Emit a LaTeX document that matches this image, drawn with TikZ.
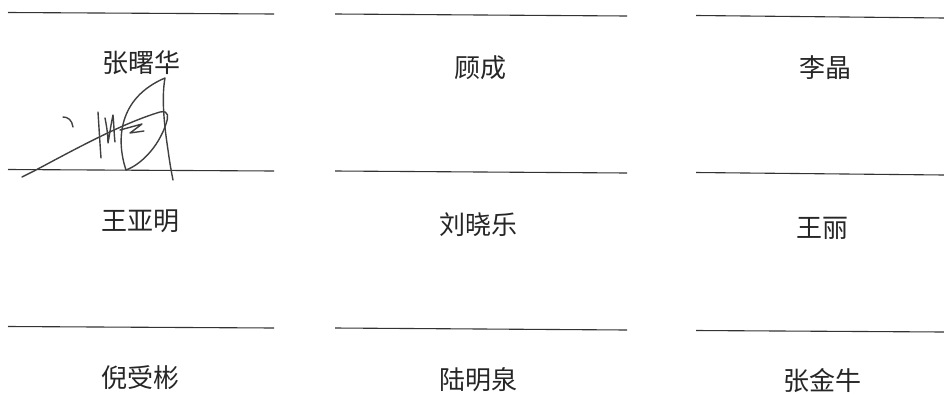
\documentclass[tikz,border=0pt]{standalone}
\usepackage{fontspec}
\newfontfamily\cjk{Noto Sans CJK SC}
\usepackage{tikz}

\begin{document}
\begin{tikzpicture}[x=1pt,y=-1pt]
    \tikzstyle{every node}+=[inner sep=0pt]
    \tikzstyle{signline}=[draw=black!80, line width=1.1pt]
    \tikzstyle{nametag}=[text=black!85, font=\cjk\fontsize{26}{26}\selectfont]
    \tikzstyle{penstroke}=[draw=black!75, line width=1.4pt, line cap=round, line join=round]
    \useasboundingbox (0,0) rectangle (944,394);
    % signature lines
    \draw [signline] (8,12.5) -- (274,14);
    \draw [signline] (335,14) -- (627,16);
    \draw [signline] (696,15.5) -- (944,18);
    \draw [signline] (8,169.5) -- (274,171);
    \draw [signline] (335,171) -- (627,173);
    \draw [signline] (696,172.5) -- (944,175);
    \draw [signline] (8,326.5) -- (274,328);
    \draw [signline] (335,328) -- (627,330);
    \draw [signline] (696,330.5) -- (944,332);
    % names
    \node [nametag] (zsh) at (141,63) {张曙华};
    \node [nametag] (gc) at (480,68) {顾成};
    \node [nametag] (lj) at (825,68) {李晶};
    \node [nametag] (wym) at (140,221) {王亚明};
    \node [nametag] (lxl) at (478,225) {刘晓乐};
    \node [nametag] (wl) at (822,228) {王丽};
    \node [nametag] (nsb) at (140,378) {倪受彬};
    \node [nametag] (lmq) at (478,380) {陆明泉};
    \node [nametag] (zjn) at (822,381) {张金牛};
    % handwritten signature
    \draw [penstroke] (63,117) .. controls (68,117) and (72,120) .. (73,127);
    \draw [penstroke] (22,177) -- (34,171) .. controls (70,152) and (120,124) .. (160,112)
        .. controls (170,110) and (168,118) .. (166,124)
        .. controls (158,148) and (140,165) .. (126,170);
    \draw [penstroke] (126,170) .. controls (116,140) and (118,98) .. (165,78)
        .. controls (161,100) and (165,130) .. (168,150)
        .. controls (170,165) and (172,175) .. (173,180);
    \draw [penstroke] (98,112) .. controls (99,128) and (100,144) .. (101,158);
    \draw [penstroke] (105,118) .. controls (107,128) and (108,136) .. (108,143)
        .. controls (110,132) and (111,124) .. (113,115)
        .. controls (114,125) and (114,134) .. (115,142);
    \draw [penstroke] (120,130) -- (142,124) -- (130,133) -- (144,131);
    \end{tikzpicture}
\end{document}
